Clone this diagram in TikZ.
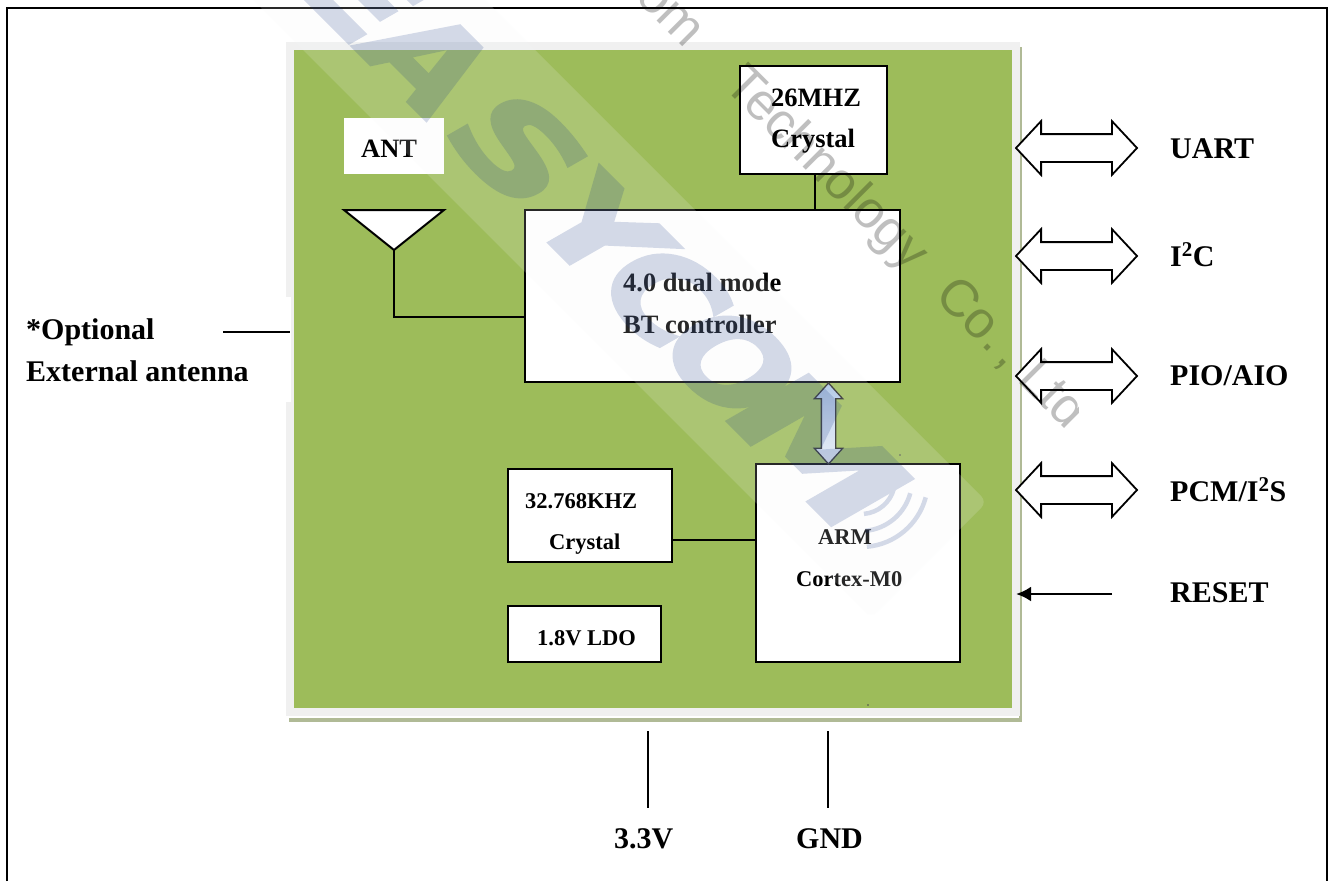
\documentclass[tikz,border=0pt]{standalone}
\usepackage{fontspec}
\setmainfont{Liberation Serif}
\newfontfamily\wmfont[BoldFeatures={FakeBold=2.5}]{DejaVu Sans}
\newfontfamily\wmthin{Liberation Sans}
\usetikzlibrary{arrows.meta,shapes.arrows}
\definecolor{pcb}{RGB}{157,188,90}
\definecolor{rimc}{RGB}{240,240,240}
\definecolor{shadowc}{RGB}{176,186,150}
\definecolor{wmblue}{RGB}{22,55,133}
\definecolor{bandc}{RGB}{245,247,248}
\definecolor{busT}{RGB}{168,194,228}
\definecolor{busM}{RGB}{205,220,240}
\definecolor{busB}{RGB}{226,233,245}
\newcommand{\fs}[1]{\fontsize{#1}{#1}\bfseries\selectfont}
\tikzset{
  x=1pt,y=-1pt,
  boxnode/.style={draw=black,fill=white,line width=2pt,inner sep=0pt},
  wire/.style={draw=black,line width=1.8pt},
  lead/.style={draw=black,line width=2.8pt},
  biglabel/.style={anchor=base west,inner sep=0pt,font=\fs{30},text=black},
  midlabel/.style={anchor=base west,inner sep=0pt,font=\fs{26.5},text=black},
  smalllabel/.style={anchor=base west,inner sep=0pt,font=\fs{22.5},text=black},
  blockarrow/.style={shape=double arrow,draw=black,fill=white,line width=1.8pt,inner xsep=0pt,inner ysep=13pt,
    minimum height=121pt,minimum width=52pt,double arrow head extend=13pt,double arrow tip angle=94},
  wmletter/.style={transform shape,inner sep=0pt,text=wmblue,font={\wmfont\fontsize{124}{124}\bfseries\selectfont}},
  wmarc/.style={draw=wmblue,line width=4.5pt},
}
\newcommand{\wmglyph}[5]{% name, x, y, xscale, letter
  \begin{scope}[shift={(#2,#3)},rotate=-45,xslant=0.27,xscale=#4]
    \node[wmletter] (#1) at (0,0) {#5};
  \end{scope}}
\begin{document}
\begin{tikzpicture}
\useasboundingbox (0,0) rectangle (1332,881);
\fill[white] (0,0) rectangle (1332,881);
% outer frame, open at the bottom
\coordinate (frameBL) at (7,881);
\coordinate (frameTL) at (7,8);
\coordinate (frameTR) at (1327,8);
\coordinate (frameBR) at (1327,881);
\draw[black,line width=2pt] (frameBL) -- (frameTL) -- (frameTR) -- (frameBR);
% module board
\fill[shadowc] (289,718) rectangle (1022,722);
\fill[shadowc] (1019,47) rectangle (1022,722);
\fill[rimc] (286,42) rectangle (1020,716);
\fill[white] (285,297) rectangle (291,402);
\fill[pcb] (294,50) rectangle (1012,708);
% blocks
\node[boxnode,minimum width=147pt,minimum height=108pt] (xtalA) at (813.5,120) {};
\node[boxnode,minimum width=375pt,minimum height=172pt] (bt) at (712.5,296) {};
\node[fill=white,inner sep=0pt,minimum width=100pt,minimum height=56pt] (ant) at (394,146) {};
\node[boxnode,minimum width=164pt,minimum height=93pt] (xtalB) at (590,515.5) {};
\node[boxnode,minimum width=204pt,minimum height=198pt] (arm) at (858,563) {};
\node[boxnode,minimum width=153pt,minimum height=56pt] (ldo) at (584.5,634) {};
% antenna
\coordinate (antL) at (344,210);
\coordinate (antR) at (444,210);
\coordinate (antTip) at (394,250);
\draw[fill=white,line width=2pt,line join=miter] (antL) -- (antR) -- (antTip) -- cycle;
% wires
\draw[wire] (antTip) |- (bt.west |- 0,317);
\draw[wire] ([xshift=1.5pt]xtalA.south) -- ([xshift=1.5pt]xtalA.south |- bt.north);
\draw[wire] (xtalB.east |- 0,540) -- (arm.west |- 0,540);
% bus arrow between controller and core
\node[shape=double arrow,shape border rotate=90,draw=black!85,line width=1.3pt,inner sep=6.5pt,
  minimum height=81pt,minimum width=27pt,double arrow head extend=7pt,double arrow tip angle=84,
  top color=busT,bottom color=busB,middle color=busM] (bus) at (828.5,423.5) {};
% block text
\node[midlabel] (tA1) at (771,106) {26MHZ};
\node[midlabel] (tA2) at (771,147) {Crystal};
\node[midlabel] (tAnt) at (361,157) {ANT};
\node[midlabel] (tBt1) at (623,291) {4.0 dual mode};
\node[midlabel] (tBt2) at (623,333) {BT controller};
\node[smalllabel] (tB1) at (525,508) {32.768KHZ};
\node[smalllabel] (tB2) at (549,549) {Crystal};
\node[smalllabel] (tArm1) at (818,544) {ARM};
\node[smalllabel] (tArm2) at (796,586) {Cortex-M0};
\node[smalllabel] (tLdo) at (537,645) {1.8V LDO};
% interface arrows
\node[blockarrow] (aUart) at (1076.5,148) {};
\node[blockarrow] (aIic) at (1076.5,256) {};
\node[blockarrow] (aPio) at (1076.5,376) {};
\node[blockarrow] (aPcm) at (1076.5,490) {};
\node[biglabel] (lUart) at (1170,158) {UART};
\node[biglabel] (lIic) at (1170,266) {I\textsuperscript{2}C};
\node[biglabel] (lPio) at (1170,385) {PIO/AIO};
\node[biglabel] (lPcm) at (1170,501) {PCM/I\textsuperscript{2}S};
\node[biglabel] (lReset) at (1170,602) {RESET};
\coordinate (rstFrom) at (1112,594);
\coordinate (rstTo) at (1016,594);
\draw[lead,-{Latex[length=15pt,width=15pt]}] (rstFrom) -- (rstTo);
% external antenna
\node[biglabel] (lOpt) at (26,339) {*Optional};
\node[biglabel] (lExt) at (26,381) {External antenna};
\coordinate (extA) at (223,332);
\coordinate (extB) at (290,332);
\draw[lead] (extA) -- (extB);
% supply
\node[biglabel] (lVcc) at (614,848) {3.3V};
\node[biglabel] (lGnd) at (796,848) {GND};
\coordinate (vccA) at (648,731);
\coordinate (vccB) at (648,808);
\coordinate (gndA) at (828,731);
\coordinate (gndB) at (828,808);
\draw[lead] (vccA) -- (vccB);
\draw[lead] (gndA) -- (gndB);
% specks
\fill[black!70] (900,455) circle (0.9pt);
\fill[black!70] (868,705) circle (0.8pt);
% watermark
\begin{scope}
\clip (0,0) rectangle (1332,881);
\fill[bandc,fill opacity=0.16,rounded corners=8pt] (153,-100) -- (385,-100) -- (987,502) -- (871,618) -- cycle;
\begin{scope}[transparency group,opacity=0.18]
\wmglyph{wE}{360}{-10}{1.25}{E}
\wmglyph{wA}{430}{60}{1.1}{A}
\wmglyph{wS}{519}{149}{1.35}{S}
\wmglyph{wY}{600}{230}{1.25}{Y}
\wmglyph{wC}{665}{295}{1.15}{C}
\wmglyph{wO}{732}{362}{1.1}{O}
\wmglyph{wM}{820}{450}{1.45}{M}
\draw[wmarc] (861,480) ++(15:34) arc[start angle=15,end angle=85,radius=34];
\draw[wmarc] (861,480) ++(15:51) arc[start angle=15,end angle=85,radius=51];
\draw[wmarc] (861,480) ++(15:67) arc[start angle=15,end angle=85,radius=67];
\end{scope}
\end{scope}
\begin{scope}
\clip (0,0) rectangle (1078,881);
\node[anchor=base west,rotate=-45,inner sep=0pt,text=black,text opacity=0.25,
  font={\wmthin\fontsize{52}{52}\selectfont}] (wmText) at (616,-20) {com\hspace{38pt} Technology\hspace{20pt} Co.\hspace{8pt}, Ltd};
\end{scope}
\end{tikzpicture}
\end{document}
